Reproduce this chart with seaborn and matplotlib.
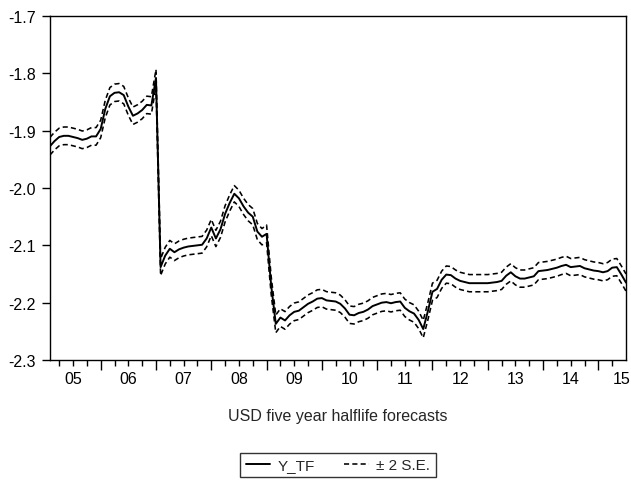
import numpy as np
import pandas as pd
import matplotlib
matplotlib.use("Agg")
import matplotlib.pyplot as plt
from matplotlib.lines import Line2D
from matplotlib.ticker import FixedLocator, FormatStrFormatter
import seaborn as sns

# Monthly forecast path, Feb 2005 - Jul 2015
first_month = "2005-02"
y_tf = [
    # 2005 (Feb-Dec)
    -1.927, -1.918, -1.911, -1.909, -1.909, -1.911, -1.913, -1.916, -1.914, -1.910, -1.910,
    # 2006
    -1.897, -1.862, -1.840, -1.834, -1.833, -1.838, -1.858, -1.874, -1.870, -1.864, -1.855, -1.856,
    # 2007
    -1.808, -2.138, -2.118, -2.106, -2.112, -2.107, -2.104, -2.102, -2.101, -2.100, -2.099, -2.088,
    # 2008
    -2.069, -2.088, -2.072, -2.045, -2.026, -2.010, -2.018, -2.032, -2.043, -2.050, -2.076, -2.085,
    # 2009
    -2.080, -2.170, -2.237, -2.226, -2.231, -2.222, -2.216, -2.214, -2.208, -2.202, -2.198, -2.193,
    # 2010
    -2.192, -2.196, -2.197, -2.198, -2.202, -2.210, -2.221, -2.222, -2.218, -2.216, -2.212, -2.206,
    # 2011
    -2.203, -2.200, -2.199, -2.201, -2.199, -2.198, -2.209, -2.215, -2.219, -2.230, -2.246, -2.215,
    # 2012
    -2.181, -2.176, -2.160, -2.151, -2.152, -2.158, -2.162, -2.164, -2.166, -2.166, -2.166, -2.166,
    # 2013
    -2.166, -2.165, -2.164, -2.162, -2.153, -2.147, -2.154, -2.158, -2.158, -2.156, -2.154, -2.145,
    # 2014
    -2.144, -2.143, -2.141, -2.139, -2.136, -2.134, -2.138, -2.137, -2.136, -2.140, -2.142, -2.144,
    # 2015 (Jan-Jul)
    -2.145, -2.147, -2.145, -2.139, -2.138, -2.151, -2.165,
]

# Forecast standard error, one value per calendar year 2005-2015
se_years = [2005, 2006, 2007, 2008, 2009, 2010, 2011, 2012, 2013, 2014, 2015]
se_values = [0.0077, 0.0076, 0.0073, 0.0071, 0.0077, 0.0076, 0.0076, 0.0075, 0.0075, 0.0075, 0.0075]

year_labels = ["05", "06", "07", "08", "09", "10", "11", "12", "13", "14", "15"]
y_ticks = [-2.3, -2.2, -2.1, -2.0, -1.9, -1.8, -1.7]

periods = pd.period_range(first_month, periods=len(y_tf), freq="M")
t = periods.year + (periods.month - 1) / 12.0
se_map = dict(zip(se_years, se_values))
se = np.array([se_map[y] for y in periods.year])
y = np.array(y_tf)
df = pd.DataFrame({"t": t, "y_tf": y, "upper": y + 2 * se, "lower": y - 2 * se})

sns.set_style("ticks")
plt.rcParams["font.family"] = ["Liberation Sans", "DejaVu Sans"]
plt.rcParams["axes.unicode_minus"] = False

fig = plt.figure(figsize=(6.31, 4.81), dpi=100)
ax = fig.add_axes([50 / 631, 1 - 361 / 481, 576 / 631, 344 / 481])

sns.lineplot(data=df, x="t", y="y_tf", color="black", linewidth=1.4, ax=ax)
for col in ["upper", "lower"]:
    sns.lineplot(data=df, x="t", y=col, color="black", linewidth=1.15,
                 linestyle=(0, (3.2, 2.0)), ax=ax)

ax.set_xlim(t[0], t[-1])
ax.set_ylim(-2.3, -1.7)
ax.set_ylabel("")
ax.set_xlabel("")

# y axis
ax.yaxis.set_major_locator(FixedLocator(y_ticks))
ax.yaxis.set_major_formatter(FormatStrFormatter("%.1f"))
ax.tick_params(axis="y", direction="out", length=6, width=1, pad=4,
               labelsize=11.5, colors="black")

# x axis: year boundaries (long ticks) and quarters (short ticks)
year_starts = np.arange(2006, 2016)
quarters = [yr + q for yr in range(2005, 2016) for q in (0.25, 0.5, 0.75)]
quarters = [q for q in quarters if t[0] < q < t[-1]]
ax.xaxis.set_major_locator(FixedLocator(year_starts))
ax.xaxis.set_minor_locator(FixedLocator(quarters))
ax.tick_params(axis="x", which="major", direction="out", length=7, width=1,
               labelbottom=False, colors="black")
ax.tick_params(axis="x", which="minor", direction="out", length=4, width=1,
               colors="black")

# year labels centred in each year
sec = ax.secondary_xaxis("bottom")
mids = [yr + 0.5 for yr in range(2005, 2015)] + [2015.42]
sec.set_xticks(mids, year_labels)
sec.tick_params(length=0, pad=8, labelsize=11.5, colors="black")
sec.spines["bottom"].set_visible(False)
sec.set_xlabel("USD five year halflife forecasts", fontsize=11.5, labelpad=16)

for s in ax.spines.values():
    s.set_visible(True)
    s.set_color("black")
    s.set_linewidth(1.0)

handles = [
    Line2D([], [], color="black", linewidth=1.4),
    Line2D([], [], color="black", linewidth=1.15, linestyle=(0, (3.2, 2.0))),
]
leg = fig.legend(handles, ["Y_TF", "\u00b1 2 S.E."], loc="center",
                 bbox_to_anchor=(338 / 631, 1 - 466 / 481), ncol=2,
                 frameon=True, fancybox=False, edgecolor="black",
                 fontsize=11, handlelength=1.6, handletextpad=0.5,
                 columnspacing=1.9, borderpad=0.35, borderaxespad=0.0)
leg.get_frame().set_linewidth(1.0)

fig.savefig("out.png", dpi=100)
